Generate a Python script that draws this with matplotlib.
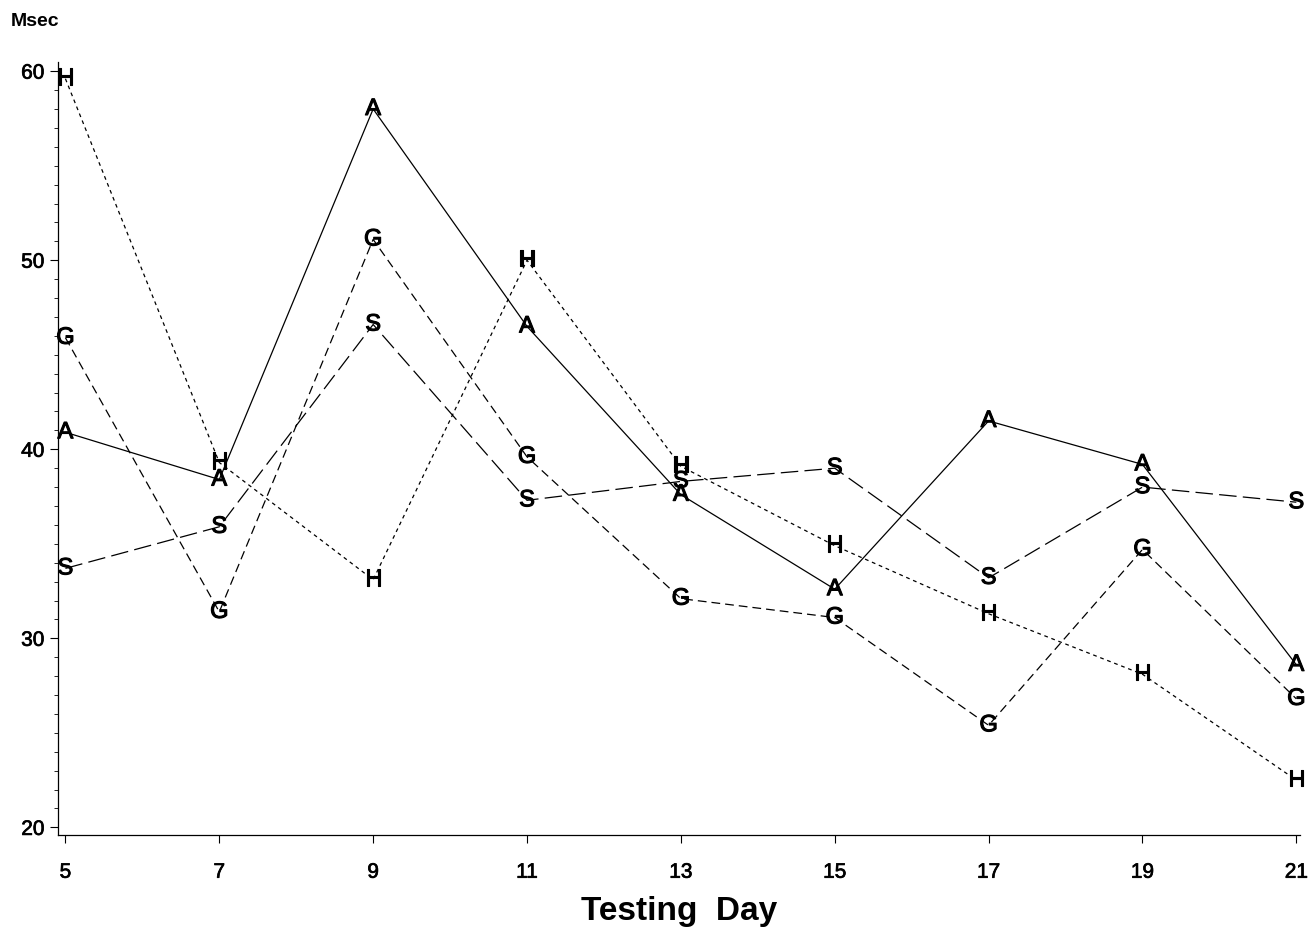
import matplotlib.pyplot as plt
import matplotlib.patheffects as pe
from matplotlib.ticker import MultipleLocator

plt.rcParams['font.family'] = ['Liberation Sans', 'DejaVu Sans']

# Dias de prueba y tiempos (msec) por grupo
days = [5, 7, 9, 11, 13, 15, 17, 19, 21]
a_vals = [40.9, 38.4, 58.0, 46.5, 37.6, 32.6, 41.5, 39.2, 28.6]
g_vals = [45.9, 31.4, 51.1, 39.6, 32.1, 31.1, 25.4, 34.7, 26.8]
s_vals = [33.7, 35.9, 46.6, 37.3, 38.3, 39.0, 33.2, 38.0, 37.2]
h_vals = [59.6, 39.3, 33.1, 50.0, 39.1, 34.9, 31.3, 28.1, 22.5]

series = [
    ('A', a_vals, (0, ())),
    ('G', g_vals, (0, (7, 4))),
    ('S', s_vals, (0, (14, 5))),
    ('H', h_vals, (0, (3, 3))),
]

# trazo fino para que las letras se vean algo mas gruesas, como en la copia escaneada
heavy = [pe.withStroke(linewidth=0.8, foreground='black')]

fig = plt.figure(figsize=(13.12, 9.35), dpi=100)
ax = fig.add_axes([0.044, 0.107, 0.947, 0.827])

for letter, vals, ls in series:
    ax.plot(days, vals, color='black', linewidth=0.9, linestyle=ls)
    for x, y in zip(days, vals):
        ax.text(x, y, letter, ha='center', va='center', fontsize=17,
                color='black', path_effects=heavy)

ax.set_xlim(4.9, 21.05)
ax.set_ylim(19.6, 60.5)
ax.set_xticks(days)
ax.set_yticks([20, 30, 40, 50, 60])
ax.yaxis.set_minor_locator(MultipleLocator(1))
ax.tick_params(axis='both', labelsize=15, direction='out', width=0.8, length=6)
ax.tick_params(axis='x', pad=14)
ax.tick_params(axis='y', which='minor', length=3, width=0.6)
for lab in ax.get_xticklabels() + ax.get_yticklabels():
    lab.set_path_effects([pe.withStroke(linewidth=0.5, foreground='black')])

for side in ['top', 'right']:
    ax.spines[side].set_visible(False)
for side in ['left', 'bottom']:
    ax.spines[side].set_linewidth(0.9)

ax.set_xlabel('Testing  Day', fontsize=24, fontweight='bold', labelpad=10)
fig.text(0.008, 0.977, 'Msec', fontsize=14, fontweight='bold', ha='left', va='center')

fig.savefig('out.png', dpi=100)
